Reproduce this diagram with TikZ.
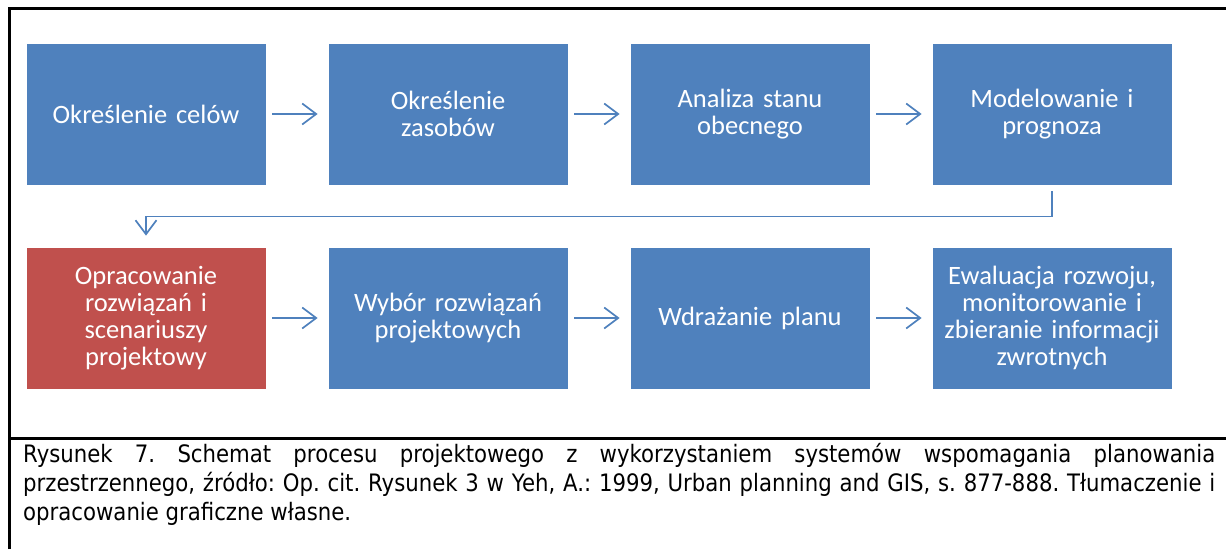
\documentclass[tikz,border=0pt]{standalone}
\usepackage{fontspec}
\setmainfont{Carlito}
\newfontfamily\capfont[FakeStretch=0.885]{DejaVu Sans}
\usetikzlibrary{arrows.meta}
\definecolor{accblue}{HTML}{4F81BD}
\definecolor{accred}{HTML}{C0504D}
\frenchspacing
\begin{document}
\begin{tikzpicture}[x=1pt,y=-1pt,
  stepbox/.style={fill=accblue, draw=white, line width=0.8pt, minimum width=240pt, minimum height=142pt,
    inner sep=0pt, text=white, align=center, text width=234pt, font=\fontsize{26.5}{27}\selectfont},
  redbox/.style={stepbox, fill=accred},
  flow/.style={draw=accblue, line width=1.7pt, -{Straight Barb[length=14pt,width=21pt,line width=1.7pt]}},
  frameline/.style={line width=3pt, black},
  capline/.style={anchor=base west, inner sep=0pt, font=\capfont\fontsize{24}{29.5}\selectfont}
]
\useasboundingbox (0,0) rectangle (1226,549);

% frame
\draw[frameline] (9,549) -- (9,8) -- (1226,8);
\draw[frameline] (9,438) -- (1226,438);

% row 1
\node[stepbox] (b1) at (146,114) {Określenie celów};
\node[stepbox] (b2) at (448,114) {Określenie\\zasobów};
\node[stepbox] (b3) at (750,114) {Analiza stanu\\obecnego};
\node[stepbox] (b4) at (1052,114) {Modelowanie i\\prognoza};

% row 2
\node[redbox] (r1) at (146,318) {Opracowanie\\rozwiązań i\\scenariuszy\\projektowy};
\node[stepbox] (r2) at (448,318) {Wybór rozwiązań\\projektowych};
\node[stepbox] (r3) at (750,318) {Wdrażanie planu};
\node[stepbox] (r4) at (1052,318) {Ewaluacja rozwoju,\\monitorowanie i\\zbieranie informacji\\zwrotnych};

% arrows
\draw[flow] ([xshift=6pt]b1.east) -- ([xshift=-10pt]b2.west);
\draw[flow] ([xshift=6pt]b2.east) -- ([xshift=-10pt]b3.west);
\draw[flow] ([xshift=6pt]b3.east) -- ([xshift=-10pt]b4.west);
\draw[flow] ([xshift=6pt]r1.east) -- ([xshift=-10pt]r2.west);
\draw[flow] ([xshift=6pt]r2.east) -- ([xshift=-10pt]r3.west);
\draw[flow] ([xshift=6pt]r3.east) -- ([xshift=-10pt]r4.west);
\draw[flow] ([yshift=-6pt]b4.south) -- ++(0,25) -| ([yshift=11pt]r1.north);

% caption
\node[capline] (c1) at (23,462) {\makebox[1192pt][s]{Rysunek 7. Schemat procesu projektowego z wykorzystaniem systemów wspomagania planowania}};
\node[capline] (c2) at (23,491) {\makebox[1192pt][s]{przestrzennego, źródło: Op. cit. Rysunek 3 w Yeh, A.: 1999, Urban planning and GIS, s. 877-888. Tłumaczenie i}};
\node[capline] (c3) at (23,520) {opracowanie graficzne własne.};
\end{tikzpicture}
\end{document}
